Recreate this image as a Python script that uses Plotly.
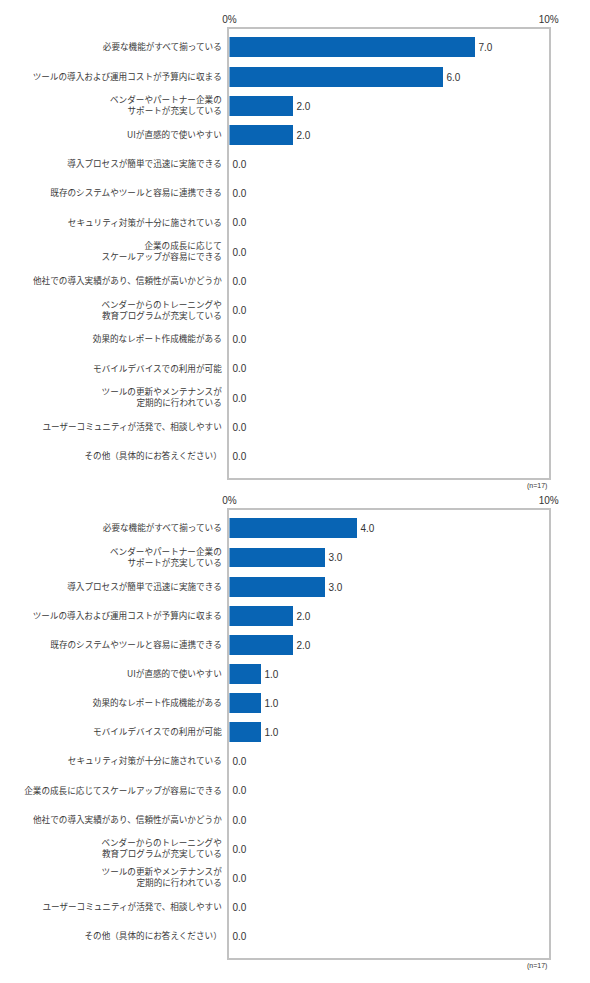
import plotly.graph_objects as go

# top chart (bar length as drawn, label as printed)
top_items = ['必要な機能がすべて揃っている',
             'ツールの導入および運用コストが予算内に収まる',
             'ベンダーやパートナー企業の<br>サポートが充実している',
             'UIが直感的で使いやすい',
             '導入プロセスが簡単で迅速に実施できる',
             '既存のシステムやツールと容易に連携できる',
             'セキュリティ対策が十分に施されている',
             '企業の成長に応じて<br>スケールアップが容易にできる',
             '他社での導入実績があり、信頼性が高いかどうか',
             'ベンダーからのトレーニングや<br>教育プログラムが充実している',
             '効果的なレポート作成機能がある',
             'モバイルデバイスでの利用が可能',
             'ツールの更新やメンテナンスが<br>定期的に行われている',
             'ユーザーコミュニティが活発で、相談しやすい',
             'その他（具体的にお答えください）']
top_bars = [7.7, 6.7, 2.0, 2.0, 0, 0, 0, 0, 0, 0, 0, 0, 0, 0, 0]
top_labels = [7.0, 6.0, 2.0, 2.0, 0, 0, 0, 0, 0, 0, 0, 0, 0, 0, 0]

# bottom chart
bottom_items = ['必要な機能がすべて揃っている',
                'ベンダーやパートナー企業の<br>サポートが充実している',
                '導入プロセスが簡単で迅速に実施できる',
                'ツールの導入および運用コストが予算内に収まる',
                '既存のシステムやツールと容易に連携できる',
                'UIが直感的で使いやすい',
                '効果的なレポート作成機能がある',
                'モバイルデバイスでの利用が可能',
                'セキュリティ対策が十分に施されている',
                '企業の成長に応じてスケールアップが容易にできる',
                '他社での導入実績があり、信頼性が高いかどうか',
                'ベンダーからのトレーニングや<br>教育プログラムが充実している',
                'ツールの更新やメンテナンスが<br>定期的に行われている',
                'ユーザーコミュニティが活発で、相談しやすい',
                'その他（具体的にお答えください）']
bottom_values = [4.0, 3.0, 3.0, 2.0, 2.0, 1.0, 1.0, 1.0, 0, 0, 0, 0, 0, 0, 0]

axis_ticks = [0, 10]
axis_ticktext = ['0%', '10%']
sample_note = '(n=17)'

FONT = 'Noto Sans CJK JP'
NUM_FONT = 'Liberation Sans'
BLUE = '#0864b4'
FRAME = '#c2c2c2'

# page body has an 8px margin, so the figure is a bit smaller than the window
W, H = 574, 967
OFF = 8


def px(x):
    return (x - OFF) / W


def py(y):
    return 1 - (y - OFF) / H


fig = go.Figure()

fig.add_trace(go.Bar(
    x=top_bars, y=top_items, orientation='h',
    xaxis='x', yaxis='y',
    marker=dict(color=BLUE, line=dict(width=0)),
    width=0.68,
    text=['%.1f' % v for v in top_labels],
    textposition='outside',
    textfont=dict(family=NUM_FONT, size=10, color='#333333'),
    cliponaxis=False,
))

fig.add_trace(go.Bar(
    x=bottom_values, y=bottom_items, orientation='h',
    xaxis='x2', yaxis='y2',
    marker=dict(color=BLUE, line=dict(width=0)),
    width=0.68,
    text=['%.1f' % v for v in bottom_values],
    textposition='outside',
    textfont=dict(family=NUM_FONT, size=10, color='#333333'),
    cliponaxis=False,
))

x_dom = [px(229), px(558)]


def x_axis(anchor):
    return dict(domain=x_dom, anchor=anchor, side='top', range=[0, 10],
                tickvals=axis_ticks, ticktext=axis_ticktext,
                showgrid=False, zeroline=False, ticks='',
                showline=True, mirror=True, linecolor=FRAME, linewidth=1.5,
                tickfont=dict(family=NUM_FONT, size=10, color='#333333'),
                fixedrange=True)


def y_axis(anchor, dom):
    return dict(domain=dom, anchor=anchor, type='category',
                range=[14.75, -0.63], showgrid=False, zeroline=False,
                ticks='', showline=True, mirror=True,
                linecolor=FRAME, linewidth=2,
                tickfont=dict(family=FONT, size=8.6, color='#3a3a3a'),
                ticklabelstandoff=4, fixedrange=True)


fig.update_layout(
    width=W, height=H,
    margin=dict(l=0, r=0, t=0, b=0),
    paper_bgcolor='white', plot_bgcolor='white',
    showlegend=False,
    bargap=0,
    xaxis=x_axis('y'),
    yaxis=y_axis('x', [py(478), py(29)]),
    xaxis2=x_axis('y2'),
    yaxis2=y_axis('x2', [py(958), py(510)]),
    annotations=[
        dict(text=sample_note, xref='paper', yref='paper',
             x=px(558), y=py(478), xanchor='right', yanchor='top',
             yshift=-2, showarrow=False,
             font=dict(family=NUM_FONT, size=7, color='#333333')),
        dict(text=sample_note, xref='paper', yref='paper',
             x=px(558), y=py(958), xanchor='right', yanchor='top',
             yshift=-2, showarrow=False,
             font=dict(family=NUM_FONT, size=7, color='#333333')),
    ],
)

fig.write_html('out.html')
